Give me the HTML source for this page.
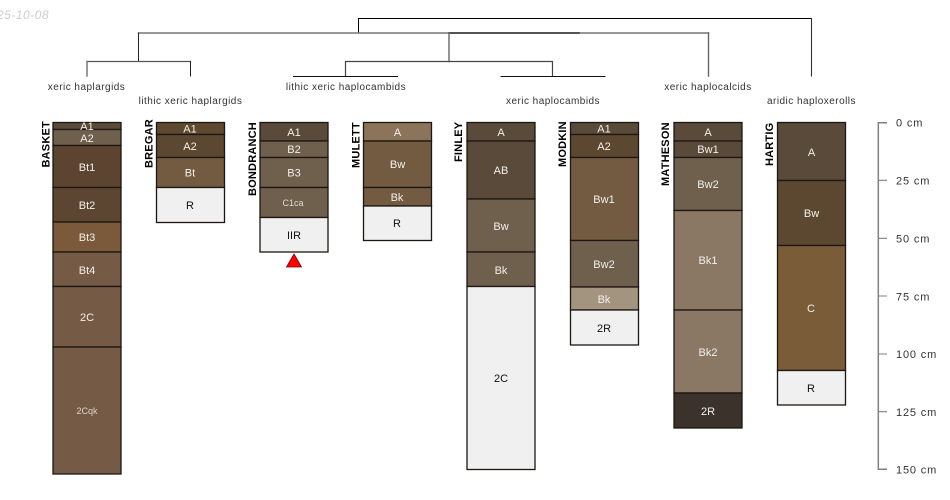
<!DOCTYPE html>
<html><head><meta charset="utf-8"><style>
html,body{margin:0;padding:0;background:#fff}
svg{display:block}
text{font-family:"Liberation Sans",sans-serif;font-size:10px}
.h{text-anchor:middle;fill:#f2f0ec;font-size:11px}
.d{text-anchor:middle;fill:#111;font-size:11px}
.n{font-weight:bold;fill:#000;font-size:11px;letter-spacing:.2px}
.t{fill:#333;text-anchor:middle;letter-spacing:.47px}
.a{fill:#333;font-size:11px;letter-spacing:.85px}
</style></head><body>
<svg width="950" height="500" viewBox="0 0 950 500" xmlns="http://www.w3.org/2000/svg">
<text x="-3" y="19" style="font-style:italic;fill:#cdcdcd;font-size:12px;letter-spacing:.5px">25-10-08</text>

<!-- dendrogram -->
<g fill="none" stroke-linecap="square">
<path stroke="#000" stroke-width="1" d="M358.5 33V18.5H811.5"/>
<path stroke="#333" stroke-width="1.1" d="M811.5 18.5V76"/>
<path stroke="#777" stroke-width="1.5" d="M138.5 33H708.5"/>
<path stroke="#333" stroke-width="1.5" d="M449 33H579"/>
<path stroke="#666" stroke-width="1.4" d="M708.5 33V76"/>
<path stroke="#222" stroke-width="1" d="M138.5 33V61.5"/>
<path stroke="#555" stroke-width="1.3" d="M87 61.5H190.5"/>
<path stroke="#777" stroke-width="1.5" d="M87 61.5V76"/>
<path stroke="#222" stroke-width="1" d="M190.5 61.5V76"/>
<path stroke="#666" stroke-width="1.4" d="M449 33V61.5"/>
<path stroke="#444" stroke-width="1.2" d="M345.5 76V61.5H552.5V76"/>
<path stroke="#111" stroke-width="1" d="M293.5 76.5H397.5M501 76.5H605"/>
</g>

<!-- taxon labels -->
<g>
<text class="t" x="86.5" y="90">xeric haplargids</text>
<text class="t" x="190.5" y="104">lithic xeric haplargids</text>
<text class="t" x="346" y="90">lithic xeric haplocambids</text>
<text class="t" x="553" y="104">xeric haplocambids</text>
<text class="t" x="708" y="90">xeric haplocalcids</text>
<text class="t" x="811.5" y="104">aridic haploxerolls</text>
</g>

<!-- horizons -->
<g stroke="#1c1712" stroke-width="1.3">
<!-- BASKET -->
<rect x="53" y="122.5" width="68" height="7" fill="#5a4a39"/>
<rect x="53" y="129.5" width="68" height="16" fill="#6f5f4d"/>
<rect x="53" y="145.5" width="68" height="42" fill="#5c4431"/>
<rect x="53" y="187.5" width="68" height="34.5" fill="#5c4632"/>
<rect x="53" y="222" width="68" height="30" fill="#7a5a3a"/>
<rect x="53" y="252" width="68" height="34.5" fill="#755b45"/>
<rect x="53" y="286.5" width="68" height="60.5" fill="#755b45"/>
<rect x="53" y="347" width="68" height="127" fill="#755b45"/>
<!-- BREGAR -->
<rect x="156.5" y="122.5" width="68" height="12" fill="#5f4830"/>
<rect x="156.5" y="134.5" width="68" height="23" fill="#5c4831"/>
<rect x="156.5" y="157.5" width="68" height="30" fill="#735b41"/>
<rect x="156.5" y="187.5" width="68" height="35" fill="#f0f0f0"/>
<!-- BONDRANCH -->
<rect x="260" y="122.5" width="68" height="18.5" fill="#5a4a39"/>
<rect x="260" y="141" width="68" height="16.5" fill="#6f5f4d"/>
<rect x="260" y="157.5" width="68" height="30" fill="#6f5f4d"/>
<rect x="260" y="187.5" width="68" height="30" fill="#6f5f4d"/>
<rect x="260" y="217.5" width="68" height="34.5" fill="#f0f0f0"/>
<!-- MULETT -->
<rect x="363.5" y="122.5" width="68" height="18.5" fill="#8c745a"/>
<rect x="363.5" y="141" width="68" height="46.5" fill="#735b41"/>
<rect x="363.5" y="187.5" width="68" height="18.5" fill="#735b41"/>
<rect x="363.5" y="206" width="68" height="34.5" fill="#f0f0f0"/>
<!-- FINLEY -->
<rect x="467" y="122.5" width="68" height="18.5" fill="#5a4a39"/>
<rect x="467" y="141" width="68" height="58" fill="#5a4a39"/>
<rect x="467" y="199" width="68" height="53" fill="#6f5f4d"/>
<rect x="467" y="252" width="68" height="34.5" fill="#6f5f4d"/>
<rect x="467" y="286.5" width="68" height="183" fill="#f0f0f0"/>
<!-- MODKIN -->
<rect x="570.5" y="122.5" width="68" height="12" fill="#5a4a39"/>
<rect x="570.5" y="134.5" width="68" height="23" fill="#5c4831"/>
<rect x="570.5" y="157.5" width="68" height="83" fill="#735b41"/>
<rect x="570.5" y="240.5" width="68" height="46.5" fill="#6f5f4d"/>
<rect x="570.5" y="287" width="68" height="23" fill="#a39480"/>
<rect x="570.5" y="310" width="68" height="35" fill="#f0f0f0"/>
<!-- MATHESON -->
<rect x="674" y="122.5" width="68" height="18.5" fill="#5a4a39"/>
<rect x="674" y="141" width="68" height="16.5" fill="#5a4a39"/>
<rect x="674" y="157.5" width="68" height="53" fill="#6f5f4d"/>
<rect x="674" y="210.5" width="68" height="99.5" fill="#8a7864"/>
<rect x="674" y="310" width="68" height="83" fill="#8a7864"/>
<rect x="674" y="393" width="68" height="35" fill="#3b322b"/>
<!-- HARTIG -->
<rect x="777.5" y="122.5" width="68" height="58" fill="#5a4a39"/>
<rect x="777.5" y="180.5" width="68" height="65" fill="#5c4831"/>
<rect x="777.5" y="245.5" width="68" height="125" fill="#7a5c38"/>
<rect x="777.5" y="370.5" width="68" height="34.5" fill="#f0f0f0"/>
</g>

<!-- horizon labels -->
<g>
<text class="h" x="87" y="130">A1</text><text class="h" x="87" y="142">A2</text><text class="h" x="87" y="171">Bt1</text>
<text class="h" x="87" y="209">Bt2</text><text class="h" x="87" y="241">Bt3</text><text class="h" x="87" y="274">Bt4</text>
<text class="h" x="87" y="321">2C</text><text class="h" x="87" y="414" style="font-size:9px;opacity:.8">2Cqk</text>
<text class="h" x="190" y="132.5">A1</text><text class="h" x="190" y="150">A2</text><text class="h" x="190" y="176.5">Bt</text><text class="d" x="190" y="209">R</text>
<text class="h" x="294" y="136">A1</text><text class="h" x="294" y="153">B2</text><text class="h" x="294" y="176.5">B3</text>
<text class="h" x="293" y="206" style="font-size:9px;opacity:.85">C1ca</text><text class="d" x="294" y="239">IIR</text>
<text class="h" x="397.5" y="136">A</text><text class="h" x="397.5" y="168">Bw</text><text class="h" x="397" y="201">Bk</text><text class="d" x="397" y="227">R</text>
<text class="h" x="501" y="136">A</text><text class="h" x="501" y="174">AB</text><text class="h" x="501" y="230">Bw</text><text class="h" x="501" y="274">Bk</text><text class="d" x="501" y="382">2C</text>
<text class="h" x="604" y="132.5">A1</text><text class="h" x="604" y="150">A2</text><text class="h" x="604" y="203">Bw1</text><text class="h" x="604" y="268">Bw2</text><text class="h" x="604" y="303">Bk</text><text class="d" x="604" y="332">2R</text>
<text class="h" x="708" y="136">A</text><text class="h" x="708" y="153">Bw1</text><text class="h" x="708" y="188">Bw2</text><text class="h" x="708" y="264">Bk1</text><text class="h" x="708" y="356">Bk2</text><text class="h" x="708" y="415">2R</text>
<text class="h" x="811.5" y="156">A</text><text class="h" x="811.5" y="217">Bw</text><text class="h" x="811" y="312">C</text><text class="d" x="811" y="392">R</text>
</g>

<!-- profile names -->
<g>
<text class="n" transform="translate(49.5,167.5) rotate(-90)">BASKET</text>
<text class="n" transform="translate(152.5,168) rotate(-90)">BREGAR</text>
<text class="n" transform="translate(256,196) rotate(-90)">BONDRANCH</text>
<text class="n" transform="translate(359.5,168) rotate(-90)">MULETT</text>
<text class="n" transform="translate(462,162) rotate(-90)">FINLEY</text>
<text class="n" transform="translate(566,167) rotate(-90)">MODKIN</text>
<text class="n" transform="translate(669,186) rotate(-90)">MATHESON</text>
<text class="n" transform="translate(773,166) rotate(-90)">HARTIG</text>
</g>

<!-- truncation marker -->
<polygon points="294,254 286.5,267 301.5,267" fill="#ff0000" stroke="#7a0000" stroke-width="0.8"/>

<!-- depth axis -->
<g fill="none" stroke="#808080">
<path stroke-width="1.5" d="M887 122.7H878.3V469.3H887"/>
<path stroke-width="1.1" d="M878.3 180.3H887M878.3 238.3H887M878.3 296H887M878.3 354H887M878.3 411.7H887"/>
</g>
<g>
<text class="a" x="896" y="126.5">0 cm</text>
<text class="a" x="896" y="184.5">25 cm</text>
<text class="a" x="896" y="242.5">50 cm</text>
<text class="a" x="896" y="300.5">75 cm</text>
<text class="a" x="896" y="358">100 cm</text>
<text class="a" x="896" y="416">125 cm</text>
<text class="a" x="896" y="473.5">150 cm</text>
</g>
</svg>
</body></html>
